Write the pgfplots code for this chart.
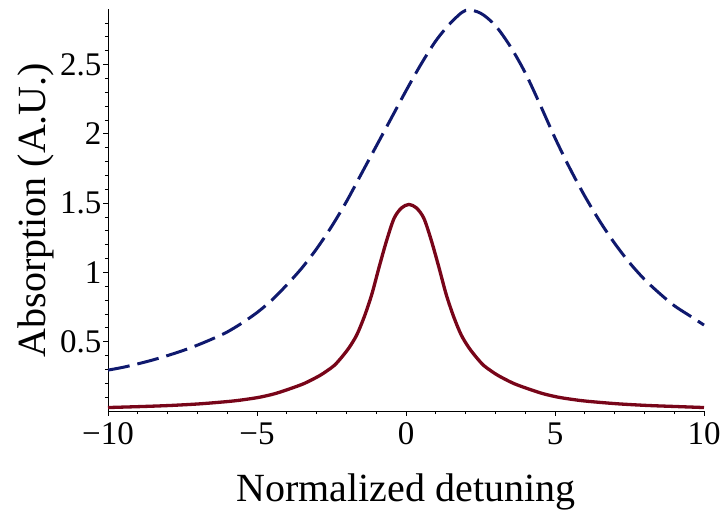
\documentclass[border=0pt]{standalone}
\usepackage{fontspec}
\setmainfont{Liberation Serif}
\usepackage{pgfplots}
\pgfplotsset{compat=1.18}
\definecolor{navyline}{RGB}{15,25,110}
\definecolor{maroonline}{RGB}{120,5,25}
\begin{document}
\begin{tikzpicture}
\path[use as bounding box] (-108pt,-101pt) rectangle (612pt,411pt);
\begin{axis}[
  at={(0,0)}, anchor=south west,
  scale only axis, width=596pt, height=402pt,
  xmin=-10, xmax=10, ymin=0, ymax=2.9,
  axis x line*=bottom, axis y line*=left,
  axis line style={line width=0.8pt, black},
  tick align=outside,
  major tick length=4.5pt, minor tick length=3pt,
  tick style={line width=0.7pt, black},
  xtick={-10,-5,0,5,10},
  xticklabels={−10,−5,0,5,10},
  minor xtick={-9,-8,-7,-6,-4,-3,-2,-1,1,2,3,4,6,7,8,9},
  ytick={0.5,1,1.5,2,2.5},
  yticklabels={0.5,1,1.5,2,2.5},
  minor ytick={0.1,0.2,0.3,0.4,0.6,0.7,0.8,0.9,1.1,1.2,1.3,1.4,1.6,1.7,1.8,1.9,2.1,2.2,2.3,2.4,2.6,2.7,2.8},
  ticklabel style={font=\fontsize{33}{36}\selectfont, inner sep=2pt},
  xticklabel style={yshift=-5pt},
  label style={font=\fontsize{40}{44}\selectfont},
  xlabel={Normalized detuning},
  ylabel={Absorption (A.U.)},
  xlabel style={at={(axis description cs:0.5,-0.2239)}, anchor=base},
  ylabel style={at={(axis description cs:-0.1057,0.5)}, anchor=base, rotate=0},
  clip=false,
]
\addplot[color=navyline, line width=3pt, dash pattern=on 22pt off 8pt, smooth] coordinates {
(-10,0.295) (-9.5,0.315) (-9,0.34) (-8.5,0.368) (-8,0.40) (-7.5,0.435) (-7,0.475)
(-6.5,0.52) (-6,0.57) (-5.5,0.635) (-5,0.71) (-4.5,0.80) (-4,0.91) (-3.5,1.03)
(-3,1.17) (-2.5,1.33) (-2,1.51) (-1.5,1.71) (-1,1.91) (-0.5,2.11) (0,2.31)
(0.5,2.50) (1,2.67) (1.5,2.80) (2,2.89) (2.5,2.87) (3,2.78) (3.5,2.63)
(4,2.44) (4.5,2.21) (5,1.97) (5.5,1.75) (6,1.55) (6.5,1.37) (7,1.21)
(7.5,1.07) (8,0.95) (8.5,0.85) (9,0.76) (9.5,0.69) (10,0.62)
};
\addplot[color=maroonline, line width=3.3pt, smooth] coordinates {
(-10,0.025) (-8.9,0.032) (-7.9,0.04) (-6.9,0.052) (-5.9,0.07) (-5.4,0.083)
(-4.9,0.10) (-4.4,0.125) (-3.9,0.16) (-3.4,0.20) (-2.9,0.255) (-2.65,0.29)
(-2.4,0.33) (-2.15,0.39) (-1.9,0.46) (-1.65,0.55) (-1.4,0.68) (-1.15,0.84)
(-0.9,1.04) (-0.65,1.23) (-0.4,1.39) (-0.15,1.465) (0.1,1.49) (0.35,1.465)
(0.6,1.39) (0.85,1.23) (1.1,1.04) (1.35,0.84) (1.6,0.68) (1.85,0.55)
(2.1,0.46) (2.35,0.39) (2.6,0.33) (2.85,0.29) (3.1,0.255) (3.6,0.20)
(4.1,0.16) (4.6,0.125) (5.1,0.10) (5.6,0.083) (6.1,0.07) (7.1,0.052)
(8.1,0.04) (9.1,0.032) (10,0.025)
};
\end{axis}
\end{tikzpicture}
\end{document}
